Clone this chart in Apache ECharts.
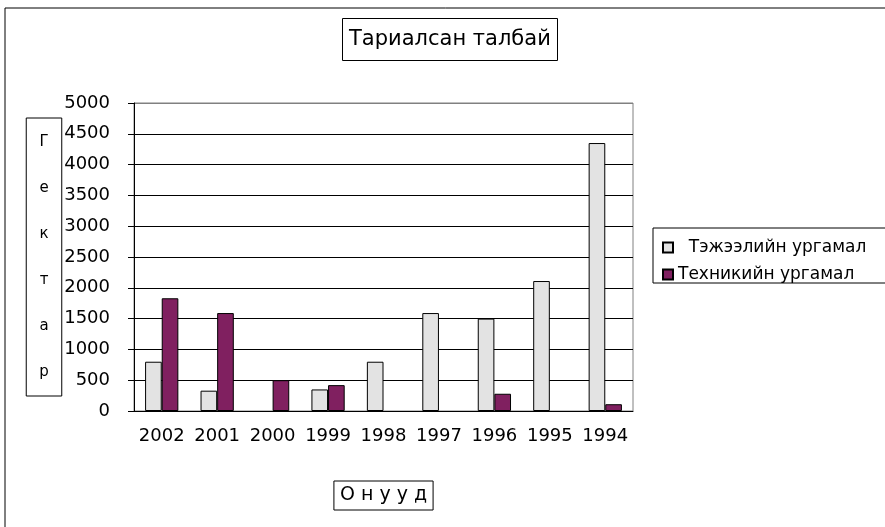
<!DOCTYPE html>
<html>
<head>
<meta charset="utf-8">
<title>Тариалсан талбай</title>
<script src="https://cdn.jsdelivr.net/npm/echarts@6/dist/echarts.min.js"></script>
<style>
    html, body { margin: 0; padding: 0; background: #fff; }
    #main { width: 885px; height: 527px; }
</style>
</head>
<body>
<div id="main"></div>
<script>
let years = ['2002', '2001', '2000', '1999', '1998', '1997', '1996', '1995', '1994']
let feedCrops = [800, 330, 0, 350, 800, 1590, 1500, 2110, 4350]
let techCrops = [1830, 1590, 500, 420, 0, 0, 280, 0, 110]
let seriesNames = ['Тэжээлийн ургамал', 'Техникийн ургамал']

let font = 'DejaVu Sans'

// empty slots stay reserved but no flat bar is drawn on the axis
let noZero = arr => arr.map(v => v === 0 ? '-' : v)

// split lines: black, but the top one (5000) is the grey plot frame
let splitColors = []
for (let i = 0; i < 10; i++) splitColors.push('#000')
splitColors.push('#808080')

var myChart = echarts.init(document.getElementById('main'))

let option = {
    backgroundColor: '#fff',
    animation: false,
    title: {
        text: 'Тариалсан талбай',
        left: 342,
        top: 18,
        padding: [11, 7],
        borderColor: '#000',
        borderWidth: 1,
        textStyle: {
            fontFamily: font,
            fontSize: 21,
            fontWeight: 'normal',
            color: '#000'
        }
    },
    legend: {
        orient: 'vertical',
        left: 662,
        top: 239,
        padding: 0,
        itemWidth: 10,
        itemHeight: 10,
        itemGap: 10,
        icon: 'rect',
        data: seriesNames,
        formatter: name => name === seriesNames[0] ? '  ' + name : name,
        textStyle: {
            fontFamily: font,
            fontSize: 17,
            lineHeight: 16,
            color: '#000'
        }
    },
    grid: {
        left: 134,
        right: 252,
        top: 103,
        bottom: 116,
        show: true,
        borderColor: '#808080',
        borderWidth: 1
    },
    xAxis: {
        type: 'category',
        data: years,
        name: 'О н у у д',
        nameLocation: 'middle',
        nameGap: 70,
        nameMoveOverlap: false,
        nameTextStyle: {
            fontFamily: font,
            fontSize: 19,
            color: '#000',
            borderColor: '#000',
            borderWidth: 1,
            padding: [5, 6]
        },
        axisLine: { lineStyle: { color: '#000' } },
        axisTick: { length: 5, lineStyle: { color: '#000' } },
        axisLabel: {
            interval: 0,
            fontFamily: font,
            fontSize: 18,
            color: '#000',
            margin: 16
        }
    },
    yAxis: {
        type: 'value',
        min: 0,
        max: 5000,
        interval: 500,
        name: 'Г\nе\nк\nт\nа\nр',
        nameLocation: 'middle',
        nameRotate: 0,
        nameGap: 90,
        nameMoveOverlap: false,
        nameTextStyle: {
            fontFamily: font,
            fontSize: 15,
            lineHeight: 46,
            color: '#000',
            borderColor: '#000',
            borderWidth: 1,
            padding: [1, 13],
            align: 'center'
        },
        axisLine: { show: true, lineStyle: { color: '#000' } },
        axisTick: { show: true, length: 6, lineStyle: { color: '#000' } },
        axisLabel: {
            formatter: v => String(v),
            fontFamily: font,
            fontSize: 18,
            color: '#000',
            margin: 24
        },
        splitLine: { lineStyle: { color: splitColors } }
    },
    graphic: [
        {
            // outer chart frame, cut off at right and bottom
            type: 'rect',
            shape: { x: 5, y: 8, width: 1000, height: 1000 },
            style: { fill: 'none', stroke: '#000', lineWidth: 1 },
            silent: true
        },
        {
            type: 'rect',
            shape: { x: 653, y: 228, width: 300, height: 55 },
            style: { fill: 'none', stroke: '#000', lineWidth: 1 },
            silent: true
        }
    ],
    series: [
        {
            name: seriesNames[0],
            type: 'bar',
            data: noZero(feedCrops),
            barGap: '0%',
            barCategoryGap: '40%',
            itemStyle: { color: '#e3e3e3', borderColor: '#000', borderWidth: 1 }
        },
        {
            name: seriesNames[1],
            type: 'bar',
            data: noZero(techCrops),
            itemStyle: { color: '#802060', borderColor: '#000', borderWidth: 1 }
        }
    ]
}

myChart.setOption(option)
</script>
</body>
</html>
